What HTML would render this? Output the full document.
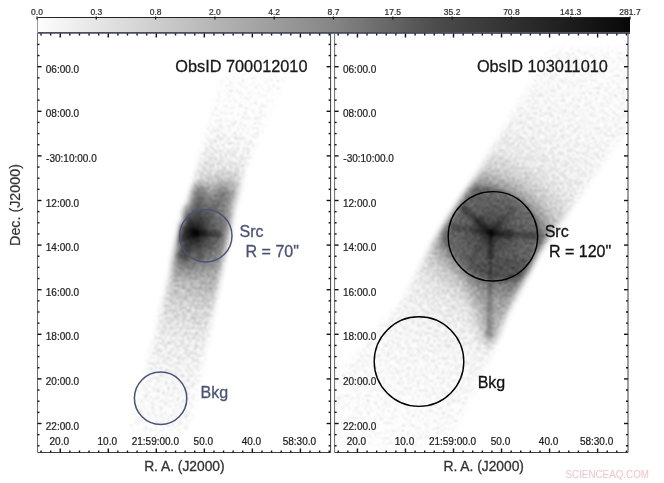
<!DOCTYPE html>
<html><head><meta charset="utf-8"><style>
html,body{margin:0;padding:0;background:#fff;width:664px;height:483px;overflow:hidden}
svg{display:block;font-family:"Liberation Sans",sans-serif;will-change:transform}
</style></head><body>
<svg width="664" height="483" viewBox="0 0 664 483">
<defs>
<linearGradient id="cbg" gradientUnits="userSpaceOnUse" x1="37" x2="630" y1="0" y2="0"><stop offset="0" stop-color="#fdfdfd"/><stop offset="0.1675" stop-color="#d6d6d6"/><stop offset="0.336" stop-color="#acacac"/><stop offset="0.505" stop-color="#848484"/><stop offset="0.673" stop-color="#4c4c4c"/><stop offset="0.842" stop-color="#282828"/><stop offset="1" stop-color="#080808"/></linearGradient>
</defs>
<rect x="37" y="17" width="593" height="16.5" fill="url(#cbg)"/>
<line x1="37" y1="17.5" x2="630" y2="17.5" stroke="#222" stroke-width="1"/>
<line x1="37" y1="32.9" x2="630" y2="32.9" stroke="#4a4e62" stroke-width="1.9"/>
<line x1="37.5" y1="17" x2="37.5" y2="33.5" stroke="#9a9a9a" stroke-width="1"/>
<defs>
<filter id="blur3" x="-20%" y="-20%" width="140%" height="140%"><feGaussianBlur stdDeviation="3"/></filter>
<filter id="blur2" x="-50%" y="-50%" width="200%" height="200%"><feGaussianBlur stdDeviation="3.5"/></filter>
<filter id="blur5" x="-50%" y="-50%" width="200%" height="200%"><feGaussianBlur stdDeviation="6"/></filter>
<filter id="blur15" x="-50%" y="-50%" width="200%" height="200%"><feGaussianBlur stdDeviation="1.6"/></filter>
<filter id="blur8" x="-50%" y="-50%" width="200%" height="200%"><feGaussianBlur stdDeviation="8"/></filter>
<filter id="blur1" x="-50%" y="-50%" width="200%" height="200%"><feGaussianBlur stdDeviation="1.2"/></filter>
<filter id="speck" filterUnits="userSpaceOnUse" x="0" y="0" width="664" height="483" color-interpolation-filters="sRGB"><feTurbulence type="fractalNoise" baseFrequency="0.4" numOctaves="1" seed="7" result="n0"/><feGaussianBlur in="n0" stdDeviation="0.3" result="n"/><feColorMatrix in="n" type="matrix" values="0 0 0 0 0  0 0 0 0 0  0 0 0 0 0  1 0 0 0 0" result="na"/><feComposite in="SourceGraphic" in2="na" operator="arithmetic" k1="0" k2="1.0" k3="-0.5" k4="0.215" result="d"/><feColorMatrix in="d" type="matrix" values="0 0 0 0 0  0 0 0 0 0  0 0 0 0 0  0 0 0 1 0" result="d2"/><feGaussianBlur in="d2" stdDeviation="0.8"/></filter>
<filter id="speckL" filterUnits="userSpaceOnUse" x="0" y="0" width="664" height="483" color-interpolation-filters="sRGB"><feTurbulence type="fractalNoise" baseFrequency="0.4" numOctaves="1" seed="7" result="n0"/><feGaussianBlur in="n0" stdDeviation="0.3" result="n"/><feColorMatrix in="n" type="matrix" values="0 0 0 0 0  0 0 0 0 0  0 0 0 0 0  1 0 0 0 0" result="na"/><feComposite in="SourceGraphic" in2="na" operator="arithmetic" k1="0" k2="1.0" k3="-0.6" k4="0.26" result="d"/><feColorMatrix in="d" type="matrix" values="0 0 0 0 0  0 0 0 0 0  0 0 0 0 0  0 0 0 1 0" result="d2"/><feGaussianBlur in="d2" stdDeviation="0.9"/></filter>
<clipPath id="clipL"><rect x="38" y="34" width="292" height="418"/></clipPath>
<clipPath id="clipR"><rect x="335.1" y="34" width="292.4" height="418"/></clipPath>
<mask id="mL" maskUnits="userSpaceOnUse" x="0" y="0" width="664" height="483"><g filter="url(#blur3)"><polygon points="222,72 288,72 245,168 233,205 217,290 188,432 130,432 167,290 190,200 199,165" fill="#fff"/></g></mask>
<mask id="mL2" maskUnits="userSpaceOnUse" x="0" y="0" width="664" height="483"><g filter="url(#blur2)"><polygon points="222,72 288,72 245,168 233,205 217,290 188,432 130,432 167,290 190,200 199,165" fill="#fff" stroke="#fff" stroke-width="6" stroke-linejoin="round"/></g></mask>
<linearGradient id="pL" gradientUnits="userSpaceOnUse" x1="0" y1="-160" x2="0" y2="198"><stop offset="0.0000" stop-color="#000" stop-opacity="0.0161"/><stop offset="0.0838" stop-color="#000" stop-opacity="0.0294"/><stop offset="0.1397" stop-color="#000" stop-opacity="0.0499"/><stop offset="0.1955" stop-color="#000" stop-opacity="0.0804"/><stop offset="0.2514" stop-color="#000" stop-opacity="0.1388"/><stop offset="0.3073" stop-color="#000" stop-opacity="0.2201"/><stop offset="0.3631" stop-color="#000" stop-opacity="0.3201"/><stop offset="0.4190" stop-color="#000" stop-opacity="0.4201"/><stop offset="0.4469" stop-color="#000" stop-opacity="0.4601"/><stop offset="0.4888" stop-color="#000" stop-opacity="0.4601"/><stop offset="0.5447" stop-color="#000" stop-opacity="0.4001"/><stop offset="0.6006" stop-color="#000" stop-opacity="0.3001"/><stop offset="0.6564" stop-color="#000" stop-opacity="0.21"/><stop offset="0.7263" stop-color="#000" stop-opacity="0.1388"/><stop offset="0.7961" stop-color="#000" stop-opacity="0.0996"/><stop offset="0.8939" stop-color="#000" stop-opacity="0.0662"/><stop offset="1.0000" stop-color="#000" stop-opacity="0.0406"/></linearGradient>
<radialGradient id="cL" gradientUnits="userSpaceOnUse" cx="195.6" cy="233" r="45"><stop offset="0.0000" stop-color="#000" stop-opacity="0.95"/><stop offset="0.0600" stop-color="#000" stop-opacity="0.85"/><stop offset="0.1500" stop-color="#000" stop-opacity="0.6"/><stop offset="0.3000" stop-color="#000" stop-opacity="0.38"/><stop offset="0.5000" stop-color="#000" stop-opacity="0.2"/><stop offset="0.7500" stop-color="#000" stop-opacity="0.08"/><stop offset="1.0000" stop-color="#000" stop-opacity="0"/></radialGradient>
<mask id="mR" maskUnits="userSpaceOnUse" x="0" y="0" width="664" height="483"><g filter="url(#blur3)"><polygon points="552,48 630,48 630,125 564,218 539,251 507,315 489,360 455,430 420,448 345,448 333,420 333,380 400,304 432,245 477,175 512,115" fill="#fff"/></g></mask>
<radialGradient id="pR" gradientUnits="userSpaceOnUse" cx="491.2" cy="233.2" r="260" gradientTransform="translate(491.2 233.2) rotate(32) scale(1.2 0.9) translate(-491.2 -233.2)"><stop offset="0.0000" stop-color="#000" stop-opacity="0.675"/><stop offset="0.1700" stop-color="#000" stop-opacity="0.635"/><stop offset="0.2000" stop-color="#000" stop-opacity="0.415"/><stop offset="0.2500" stop-color="#000" stop-opacity="0.245"/><stop offset="0.3300" stop-color="#000" stop-opacity="0.1347"/><stop offset="0.4400" stop-color="#000" stop-opacity="0.0916"/><stop offset="0.5800" stop-color="#000" stop-opacity="0.0664"/><stop offset="0.7700" stop-color="#000" stop-opacity="0.0467"/><stop offset="1.0000" stop-color="#000" stop-opacity="0.0293"/></radialGradient>
<radialGradient id="cR" gradientUnits="userSpaceOnUse" cx="491.2" cy="233.2" r="40"><stop offset="0.0000" stop-color="#000" stop-opacity="0.9"/><stop offset="0.0500" stop-color="#000" stop-opacity="0.75"/><stop offset="0.1500" stop-color="#000" stop-opacity="0.45"/><stop offset="0.3500" stop-color="#000" stop-opacity="0.2"/><stop offset="0.7000" stop-color="#000" stop-opacity="0.05"/><stop offset="1.0000" stop-color="#000" stop-opacity="0"/></radialGradient>
</defs>
<g clip-path="url(#clipL)"><g mask="url(#mL)"><g filter="url(#speckL)"><rect x="-44" y="-170" width="88" height="378" fill="url(#pL)" transform="translate(205,233) rotate(14)"/></g></g><g mask="url(#mL2)"><g filter="url(#blur8)"><ellipse cx="205" cy="226" rx="55" ry="20" transform="rotate(-58 205 226)" fill="#000" fill-opacity="0.22"/></g><g filter="url(#blur2)" fill="#000"><path d="M197.0 233.2 L209.0 186.2 L191.1 184.3 L193.0 232.8 Z" fill-opacity="0.3"/><path d="M196.2 233.9 L233.1 192.5 L220.0 183.4 L193.8 232.1 Z" fill-opacity="0.2"/></g><g filter="url(#blur15)" fill="#000"><path d="M195.0 231.0 L177.0 221.0 L177.0 245.0 L195.0 235.0 Z" fill-opacity="0.42"/><path d="M193.7 232.3 L174.7 256.2 L187.1 262.8 L196.3 233.7 Z" fill-opacity="0.25"/><path d="M194.9 234.0 L220.7 238.3 L221.2 231.3 L195.1 232.0 Z" fill-opacity="0.32"/><path d="M194.9 234.5 L206.7 238.3 L207.3 229.3 L195.1 231.5 Z" fill-opacity="0.25"/><path d="M194.0 233.2 L197.9 261.0 L203.8 259.8 L196.0 232.8 Z" fill-opacity="0.15"/><path d="M196.3 232.3 L186.2 203.7 L175.6 209.3 L193.7 233.7 Z" fill-opacity="0.3"/></g><circle cx="195.6" cy="233" r="45" fill="url(#cL)"/></g></g>
<g clip-path="url(#clipR)"><g mask="url(#mR)"><g filter="url(#speck)"><rect x="335" y="34" width="293" height="418" fill="url(#pR)"/><g filter="url(#blur5)"><path d="M462 262 L530 258 L500 345 L484 345 Z" fill="#000" fill-opacity="0.25"/></g></g><g filter="url(#blur15)" fill="#000"><path d="M491.7 232.3 L464.0 203.3 L458.6 209.2 L490.3 233.7 Z" fill-opacity="0.3"/><path d="M492.0 231.9 L480.2 215.2 L472.1 224.1 L490.0 234.1 Z" fill-opacity="0.3"/><path d="M491.7 233.7 L516.4 210.1 L511.1 205.4 L490.3 232.3 Z" fill-opacity="0.16"/><path d="M492.1 234.0 L505.1 224.1 L498.4 218.1 L489.9 232.0 Z" fill-opacity="0.16"/><path d="M490.9 234.0 L536.6 240.7 L537.2 231.7 L491.1 232.0 Z" fill-opacity="0.3"/><path d="M490.9 234.5 L512.5 240.5 L513.4 228.5 L491.1 231.5 Z" fill-opacity="0.28"/><path d="M490.0 233.0 L485.7 337.9 L492.7 338.0 L492.0 233.0 Z" fill-opacity="0.22"/><path d="M489.5 233.0 L485.5 258.9 L495.5 259.1 L492.5 233.0 Z" fill-opacity="0.28"/><path d="M491.1 232.0 L451.9 223.5 L450.8 231.4 L490.9 234.0 Z" fill-opacity="0.2"/><path d="M491.2 231.5 L473.9 225.5 L472.5 235.4 L490.8 234.5 Z" fill-opacity="0.18"/><path d="M490.2 232.4 L465.7 258.9 L472.0 263.8 L491.8 233.6 Z" fill-opacity="0.1"/></g><circle cx="491.2" cy="233.2" r="40" fill="url(#cR)"/></g></g>
<path d="M37.5 452.5 H330.6 V33.5" fill="none" stroke="#3c3f4c" stroke-width="1"/>
<path d="M37.5 33.5 V452.5" fill="none" stroke="#6a6c74" stroke-width="1"/>
<line x1="37.5" y1="44.40" x2="39.5" y2="44.40" stroke="#111" stroke-width="1.4"/>
<line x1="330.6" y1="44.40" x2="328.6" y2="44.40" stroke="#111" stroke-width="1.4"/>
<line x1="37.5" y1="55.55" x2="39.5" y2="55.55" stroke="#111" stroke-width="1.4"/>
<line x1="330.6" y1="55.55" x2="328.6" y2="55.55" stroke="#111" stroke-width="1.4"/>
<line x1="37.5" y1="66.70" x2="41.5" y2="66.70" stroke="#111" stroke-width="1.4"/>
<line x1="330.6" y1="66.70" x2="326.6" y2="66.70" stroke="#111" stroke-width="1.4"/>
<line x1="37.5" y1="77.85" x2="39.5" y2="77.85" stroke="#111" stroke-width="1.4"/>
<line x1="330.6" y1="77.85" x2="328.6" y2="77.85" stroke="#111" stroke-width="1.4"/>
<line x1="37.5" y1="89.00" x2="39.5" y2="89.00" stroke="#111" stroke-width="1.4"/>
<line x1="330.6" y1="89.00" x2="328.6" y2="89.00" stroke="#111" stroke-width="1.4"/>
<line x1="37.5" y1="100.15" x2="39.5" y2="100.15" stroke="#111" stroke-width="1.4"/>
<line x1="330.6" y1="100.15" x2="328.6" y2="100.15" stroke="#111" stroke-width="1.4"/>
<line x1="37.5" y1="111.30" x2="41.5" y2="111.30" stroke="#111" stroke-width="1.4"/>
<line x1="330.6" y1="111.30" x2="326.6" y2="111.30" stroke="#111" stroke-width="1.4"/>
<line x1="37.5" y1="122.45" x2="39.5" y2="122.45" stroke="#111" stroke-width="1.4"/>
<line x1="330.6" y1="122.45" x2="328.6" y2="122.45" stroke="#111" stroke-width="1.4"/>
<line x1="37.5" y1="133.60" x2="39.5" y2="133.60" stroke="#111" stroke-width="1.4"/>
<line x1="330.6" y1="133.60" x2="328.6" y2="133.60" stroke="#111" stroke-width="1.4"/>
<line x1="37.5" y1="144.75" x2="39.5" y2="144.75" stroke="#111" stroke-width="1.4"/>
<line x1="330.6" y1="144.75" x2="328.6" y2="144.75" stroke="#111" stroke-width="1.4"/>
<line x1="37.5" y1="155.90" x2="41.5" y2="155.90" stroke="#111" stroke-width="1.4"/>
<line x1="330.6" y1="155.90" x2="326.6" y2="155.90" stroke="#111" stroke-width="1.4"/>
<line x1="37.5" y1="167.05" x2="39.5" y2="167.05" stroke="#111" stroke-width="1.4"/>
<line x1="330.6" y1="167.05" x2="328.6" y2="167.05" stroke="#111" stroke-width="1.4"/>
<line x1="37.5" y1="178.20" x2="39.5" y2="178.20" stroke="#111" stroke-width="1.4"/>
<line x1="330.6" y1="178.20" x2="328.6" y2="178.20" stroke="#111" stroke-width="1.4"/>
<line x1="37.5" y1="189.35" x2="39.5" y2="189.35" stroke="#111" stroke-width="1.4"/>
<line x1="330.6" y1="189.35" x2="328.6" y2="189.35" stroke="#111" stroke-width="1.4"/>
<line x1="37.5" y1="200.50" x2="41.5" y2="200.50" stroke="#111" stroke-width="1.4"/>
<line x1="330.6" y1="200.50" x2="326.6" y2="200.50" stroke="#111" stroke-width="1.4"/>
<line x1="37.5" y1="211.65" x2="39.5" y2="211.65" stroke="#111" stroke-width="1.4"/>
<line x1="330.6" y1="211.65" x2="328.6" y2="211.65" stroke="#111" stroke-width="1.4"/>
<line x1="37.5" y1="222.80" x2="39.5" y2="222.80" stroke="#111" stroke-width="1.4"/>
<line x1="330.6" y1="222.80" x2="328.6" y2="222.80" stroke="#111" stroke-width="1.4"/>
<line x1="37.5" y1="233.95" x2="39.5" y2="233.95" stroke="#111" stroke-width="1.4"/>
<line x1="330.6" y1="233.95" x2="328.6" y2="233.95" stroke="#111" stroke-width="1.4"/>
<line x1="37.5" y1="245.10" x2="41.5" y2="245.10" stroke="#111" stroke-width="1.4"/>
<line x1="330.6" y1="245.10" x2="326.6" y2="245.10" stroke="#111" stroke-width="1.4"/>
<line x1="37.5" y1="256.25" x2="39.5" y2="256.25" stroke="#111" stroke-width="1.4"/>
<line x1="330.6" y1="256.25" x2="328.6" y2="256.25" stroke="#111" stroke-width="1.4"/>
<line x1="37.5" y1="267.40" x2="39.5" y2="267.40" stroke="#111" stroke-width="1.4"/>
<line x1="330.6" y1="267.40" x2="328.6" y2="267.40" stroke="#111" stroke-width="1.4"/>
<line x1="37.5" y1="278.55" x2="39.5" y2="278.55" stroke="#111" stroke-width="1.4"/>
<line x1="330.6" y1="278.55" x2="328.6" y2="278.55" stroke="#111" stroke-width="1.4"/>
<line x1="37.5" y1="289.70" x2="41.5" y2="289.70" stroke="#111" stroke-width="1.4"/>
<line x1="330.6" y1="289.70" x2="326.6" y2="289.70" stroke="#111" stroke-width="1.4"/>
<line x1="37.5" y1="300.85" x2="39.5" y2="300.85" stroke="#111" stroke-width="1.4"/>
<line x1="330.6" y1="300.85" x2="328.6" y2="300.85" stroke="#111" stroke-width="1.4"/>
<line x1="37.5" y1="312.00" x2="39.5" y2="312.00" stroke="#111" stroke-width="1.4"/>
<line x1="330.6" y1="312.00" x2="328.6" y2="312.00" stroke="#111" stroke-width="1.4"/>
<line x1="37.5" y1="323.15" x2="39.5" y2="323.15" stroke="#111" stroke-width="1.4"/>
<line x1="330.6" y1="323.15" x2="328.6" y2="323.15" stroke="#111" stroke-width="1.4"/>
<line x1="37.5" y1="334.30" x2="41.5" y2="334.30" stroke="#111" stroke-width="1.4"/>
<line x1="330.6" y1="334.30" x2="326.6" y2="334.30" stroke="#111" stroke-width="1.4"/>
<line x1="37.5" y1="345.45" x2="39.5" y2="345.45" stroke="#111" stroke-width="1.4"/>
<line x1="330.6" y1="345.45" x2="328.6" y2="345.45" stroke="#111" stroke-width="1.4"/>
<line x1="37.5" y1="356.60" x2="39.5" y2="356.60" stroke="#111" stroke-width="1.4"/>
<line x1="330.6" y1="356.60" x2="328.6" y2="356.60" stroke="#111" stroke-width="1.4"/>
<line x1="37.5" y1="367.75" x2="39.5" y2="367.75" stroke="#111" stroke-width="1.4"/>
<line x1="330.6" y1="367.75" x2="328.6" y2="367.75" stroke="#111" stroke-width="1.4"/>
<line x1="37.5" y1="378.90" x2="41.5" y2="378.90" stroke="#111" stroke-width="1.4"/>
<line x1="330.6" y1="378.90" x2="326.6" y2="378.90" stroke="#111" stroke-width="1.4"/>
<line x1="37.5" y1="390.05" x2="39.5" y2="390.05" stroke="#111" stroke-width="1.4"/>
<line x1="330.6" y1="390.05" x2="328.6" y2="390.05" stroke="#111" stroke-width="1.4"/>
<line x1="37.5" y1="401.20" x2="39.5" y2="401.20" stroke="#111" stroke-width="1.4"/>
<line x1="330.6" y1="401.20" x2="328.6" y2="401.20" stroke="#111" stroke-width="1.4"/>
<line x1="37.5" y1="412.35" x2="39.5" y2="412.35" stroke="#111" stroke-width="1.4"/>
<line x1="330.6" y1="412.35" x2="328.6" y2="412.35" stroke="#111" stroke-width="1.4"/>
<line x1="37.5" y1="423.50" x2="41.5" y2="423.50" stroke="#111" stroke-width="1.4"/>
<line x1="330.6" y1="423.50" x2="326.6" y2="423.50" stroke="#111" stroke-width="1.4"/>
<line x1="37.5" y1="434.65" x2="39.5" y2="434.65" stroke="#111" stroke-width="1.4"/>
<line x1="330.6" y1="434.65" x2="328.6" y2="434.65" stroke="#111" stroke-width="1.4"/>
<line x1="37.5" y1="445.80" x2="39.5" y2="445.80" stroke="#111" stroke-width="1.4"/>
<line x1="330.6" y1="445.80" x2="328.6" y2="445.80" stroke="#111" stroke-width="1.4"/>
<line x1="41.04" y1="452.5" x2="41.04" y2="450.5" stroke="#111" stroke-width="1.4"/>
<line x1="41.04" y1="33.5" x2="41.04" y2="35.5" stroke="#111" stroke-width="1.4"/>
<line x1="50.64" y1="452.5" x2="50.64" y2="450.5" stroke="#111" stroke-width="1.4"/>
<line x1="50.64" y1="33.5" x2="50.64" y2="35.5" stroke="#111" stroke-width="1.4"/>
<line x1="60.25" y1="452.5" x2="60.25" y2="448.5" stroke="#111" stroke-width="1.4"/>
<line x1="60.25" y1="33.5" x2="60.25" y2="37.5" stroke="#111" stroke-width="1.4"/>
<line x1="69.86" y1="452.5" x2="69.86" y2="450.5" stroke="#111" stroke-width="1.4"/>
<line x1="69.86" y1="33.5" x2="69.86" y2="35.5" stroke="#111" stroke-width="1.4"/>
<line x1="79.46" y1="452.5" x2="79.46" y2="450.5" stroke="#111" stroke-width="1.4"/>
<line x1="79.46" y1="33.5" x2="79.46" y2="35.5" stroke="#111" stroke-width="1.4"/>
<line x1="89.07" y1="452.5" x2="89.07" y2="450.5" stroke="#111" stroke-width="1.4"/>
<line x1="89.07" y1="33.5" x2="89.07" y2="35.5" stroke="#111" stroke-width="1.4"/>
<line x1="98.67" y1="452.5" x2="98.67" y2="450.5" stroke="#111" stroke-width="1.4"/>
<line x1="98.67" y1="33.5" x2="98.67" y2="35.5" stroke="#111" stroke-width="1.4"/>
<line x1="108.28" y1="452.5" x2="108.28" y2="448.5" stroke="#111" stroke-width="1.4"/>
<line x1="108.28" y1="33.5" x2="108.28" y2="37.5" stroke="#111" stroke-width="1.4"/>
<line x1="117.89" y1="452.5" x2="117.89" y2="450.5" stroke="#111" stroke-width="1.4"/>
<line x1="117.89" y1="33.5" x2="117.89" y2="35.5" stroke="#111" stroke-width="1.4"/>
<line x1="127.49" y1="452.5" x2="127.49" y2="450.5" stroke="#111" stroke-width="1.4"/>
<line x1="127.49" y1="33.5" x2="127.49" y2="35.5" stroke="#111" stroke-width="1.4"/>
<line x1="137.10" y1="452.5" x2="137.10" y2="450.5" stroke="#111" stroke-width="1.4"/>
<line x1="137.10" y1="33.5" x2="137.10" y2="35.5" stroke="#111" stroke-width="1.4"/>
<line x1="146.70" y1="452.5" x2="146.70" y2="450.5" stroke="#111" stroke-width="1.4"/>
<line x1="146.70" y1="33.5" x2="146.70" y2="35.5" stroke="#111" stroke-width="1.4"/>
<line x1="156.31" y1="452.5" x2="156.31" y2="448.5" stroke="#111" stroke-width="1.4"/>
<line x1="156.31" y1="33.5" x2="156.31" y2="37.5" stroke="#111" stroke-width="1.4"/>
<line x1="165.92" y1="452.5" x2="165.92" y2="450.5" stroke="#111" stroke-width="1.4"/>
<line x1="165.92" y1="33.5" x2="165.92" y2="35.5" stroke="#111" stroke-width="1.4"/>
<line x1="175.52" y1="452.5" x2="175.52" y2="450.5" stroke="#111" stroke-width="1.4"/>
<line x1="175.52" y1="33.5" x2="175.52" y2="35.5" stroke="#111" stroke-width="1.4"/>
<line x1="185.13" y1="452.5" x2="185.13" y2="450.5" stroke="#111" stroke-width="1.4"/>
<line x1="185.13" y1="33.5" x2="185.13" y2="35.5" stroke="#111" stroke-width="1.4"/>
<line x1="194.73" y1="452.5" x2="194.73" y2="450.5" stroke="#111" stroke-width="1.4"/>
<line x1="194.73" y1="33.5" x2="194.73" y2="35.5" stroke="#111" stroke-width="1.4"/>
<line x1="204.34" y1="452.5" x2="204.34" y2="448.5" stroke="#111" stroke-width="1.4"/>
<line x1="204.34" y1="33.5" x2="204.34" y2="37.5" stroke="#111" stroke-width="1.4"/>
<line x1="213.95" y1="452.5" x2="213.95" y2="450.5" stroke="#111" stroke-width="1.4"/>
<line x1="213.95" y1="33.5" x2="213.95" y2="35.5" stroke="#111" stroke-width="1.4"/>
<line x1="223.55" y1="452.5" x2="223.55" y2="450.5" stroke="#111" stroke-width="1.4"/>
<line x1="223.55" y1="33.5" x2="223.55" y2="35.5" stroke="#111" stroke-width="1.4"/>
<line x1="233.16" y1="452.5" x2="233.16" y2="450.5" stroke="#111" stroke-width="1.4"/>
<line x1="233.16" y1="33.5" x2="233.16" y2="35.5" stroke="#111" stroke-width="1.4"/>
<line x1="242.76" y1="452.5" x2="242.76" y2="450.5" stroke="#111" stroke-width="1.4"/>
<line x1="242.76" y1="33.5" x2="242.76" y2="35.5" stroke="#111" stroke-width="1.4"/>
<line x1="252.37" y1="452.5" x2="252.37" y2="448.5" stroke="#111" stroke-width="1.4"/>
<line x1="252.37" y1="33.5" x2="252.37" y2="37.5" stroke="#111" stroke-width="1.4"/>
<line x1="261.98" y1="452.5" x2="261.98" y2="450.5" stroke="#111" stroke-width="1.4"/>
<line x1="261.98" y1="33.5" x2="261.98" y2="35.5" stroke="#111" stroke-width="1.4"/>
<line x1="271.58" y1="452.5" x2="271.58" y2="450.5" stroke="#111" stroke-width="1.4"/>
<line x1="271.58" y1="33.5" x2="271.58" y2="35.5" stroke="#111" stroke-width="1.4"/>
<line x1="281.19" y1="452.5" x2="281.19" y2="450.5" stroke="#111" stroke-width="1.4"/>
<line x1="281.19" y1="33.5" x2="281.19" y2="35.5" stroke="#111" stroke-width="1.4"/>
<line x1="290.79" y1="452.5" x2="290.79" y2="450.5" stroke="#111" stroke-width="1.4"/>
<line x1="290.79" y1="33.5" x2="290.79" y2="35.5" stroke="#111" stroke-width="1.4"/>
<line x1="300.40" y1="452.5" x2="300.40" y2="448.5" stroke="#111" stroke-width="1.4"/>
<line x1="300.40" y1="33.5" x2="300.40" y2="37.5" stroke="#111" stroke-width="1.4"/>
<line x1="310.01" y1="452.5" x2="310.01" y2="450.5" stroke="#111" stroke-width="1.4"/>
<line x1="310.01" y1="33.5" x2="310.01" y2="35.5" stroke="#111" stroke-width="1.4"/>
<line x1="319.61" y1="452.5" x2="319.61" y2="450.5" stroke="#111" stroke-width="1.4"/>
<line x1="319.61" y1="33.5" x2="319.61" y2="35.5" stroke="#111" stroke-width="1.4"/>
<line x1="329.22" y1="452.5" x2="329.22" y2="450.5" stroke="#111" stroke-width="1.4"/>
<line x1="329.22" y1="33.5" x2="329.22" y2="35.5" stroke="#111" stroke-width="1.4"/>
<path d="M334.6 452.5 H628.0 V33.5" fill="none" stroke="#3c3f4c" stroke-width="1"/>
<path d="M334.6 33.5 V452.5" fill="none" stroke="#6a6c74" stroke-width="1"/>
<line x1="334.6" y1="44.40" x2="336.6" y2="44.40" stroke="#111" stroke-width="1.4"/>
<line x1="628.0" y1="44.40" x2="626.0" y2="44.40" stroke="#111" stroke-width="1.4"/>
<line x1="334.6" y1="55.55" x2="336.6" y2="55.55" stroke="#111" stroke-width="1.4"/>
<line x1="628.0" y1="55.55" x2="626.0" y2="55.55" stroke="#111" stroke-width="1.4"/>
<line x1="334.6" y1="66.70" x2="338.6" y2="66.70" stroke="#111" stroke-width="1.4"/>
<line x1="628.0" y1="66.70" x2="624.0" y2="66.70" stroke="#111" stroke-width="1.4"/>
<line x1="334.6" y1="77.85" x2="336.6" y2="77.85" stroke="#111" stroke-width="1.4"/>
<line x1="628.0" y1="77.85" x2="626.0" y2="77.85" stroke="#111" stroke-width="1.4"/>
<line x1="334.6" y1="89.00" x2="336.6" y2="89.00" stroke="#111" stroke-width="1.4"/>
<line x1="628.0" y1="89.00" x2="626.0" y2="89.00" stroke="#111" stroke-width="1.4"/>
<line x1="334.6" y1="100.15" x2="336.6" y2="100.15" stroke="#111" stroke-width="1.4"/>
<line x1="628.0" y1="100.15" x2="626.0" y2="100.15" stroke="#111" stroke-width="1.4"/>
<line x1="334.6" y1="111.30" x2="338.6" y2="111.30" stroke="#111" stroke-width="1.4"/>
<line x1="628.0" y1="111.30" x2="624.0" y2="111.30" stroke="#111" stroke-width="1.4"/>
<line x1="334.6" y1="122.45" x2="336.6" y2="122.45" stroke="#111" stroke-width="1.4"/>
<line x1="628.0" y1="122.45" x2="626.0" y2="122.45" stroke="#111" stroke-width="1.4"/>
<line x1="334.6" y1="133.60" x2="336.6" y2="133.60" stroke="#111" stroke-width="1.4"/>
<line x1="628.0" y1="133.60" x2="626.0" y2="133.60" stroke="#111" stroke-width="1.4"/>
<line x1="334.6" y1="144.75" x2="336.6" y2="144.75" stroke="#111" stroke-width="1.4"/>
<line x1="628.0" y1="144.75" x2="626.0" y2="144.75" stroke="#111" stroke-width="1.4"/>
<line x1="334.6" y1="155.90" x2="338.6" y2="155.90" stroke="#111" stroke-width="1.4"/>
<line x1="628.0" y1="155.90" x2="624.0" y2="155.90" stroke="#111" stroke-width="1.4"/>
<line x1="334.6" y1="167.05" x2="336.6" y2="167.05" stroke="#111" stroke-width="1.4"/>
<line x1="628.0" y1="167.05" x2="626.0" y2="167.05" stroke="#111" stroke-width="1.4"/>
<line x1="334.6" y1="178.20" x2="336.6" y2="178.20" stroke="#111" stroke-width="1.4"/>
<line x1="628.0" y1="178.20" x2="626.0" y2="178.20" stroke="#111" stroke-width="1.4"/>
<line x1="334.6" y1="189.35" x2="336.6" y2="189.35" stroke="#111" stroke-width="1.4"/>
<line x1="628.0" y1="189.35" x2="626.0" y2="189.35" stroke="#111" stroke-width="1.4"/>
<line x1="334.6" y1="200.50" x2="338.6" y2="200.50" stroke="#111" stroke-width="1.4"/>
<line x1="628.0" y1="200.50" x2="624.0" y2="200.50" stroke="#111" stroke-width="1.4"/>
<line x1="334.6" y1="211.65" x2="336.6" y2="211.65" stroke="#111" stroke-width="1.4"/>
<line x1="628.0" y1="211.65" x2="626.0" y2="211.65" stroke="#111" stroke-width="1.4"/>
<line x1="334.6" y1="222.80" x2="336.6" y2="222.80" stroke="#111" stroke-width="1.4"/>
<line x1="628.0" y1="222.80" x2="626.0" y2="222.80" stroke="#111" stroke-width="1.4"/>
<line x1="334.6" y1="233.95" x2="336.6" y2="233.95" stroke="#111" stroke-width="1.4"/>
<line x1="628.0" y1="233.95" x2="626.0" y2="233.95" stroke="#111" stroke-width="1.4"/>
<line x1="334.6" y1="245.10" x2="338.6" y2="245.10" stroke="#111" stroke-width="1.4"/>
<line x1="628.0" y1="245.10" x2="624.0" y2="245.10" stroke="#111" stroke-width="1.4"/>
<line x1="334.6" y1="256.25" x2="336.6" y2="256.25" stroke="#111" stroke-width="1.4"/>
<line x1="628.0" y1="256.25" x2="626.0" y2="256.25" stroke="#111" stroke-width="1.4"/>
<line x1="334.6" y1="267.40" x2="336.6" y2="267.40" stroke="#111" stroke-width="1.4"/>
<line x1="628.0" y1="267.40" x2="626.0" y2="267.40" stroke="#111" stroke-width="1.4"/>
<line x1="334.6" y1="278.55" x2="336.6" y2="278.55" stroke="#111" stroke-width="1.4"/>
<line x1="628.0" y1="278.55" x2="626.0" y2="278.55" stroke="#111" stroke-width="1.4"/>
<line x1="334.6" y1="289.70" x2="338.6" y2="289.70" stroke="#111" stroke-width="1.4"/>
<line x1="628.0" y1="289.70" x2="624.0" y2="289.70" stroke="#111" stroke-width="1.4"/>
<line x1="334.6" y1="300.85" x2="336.6" y2="300.85" stroke="#111" stroke-width="1.4"/>
<line x1="628.0" y1="300.85" x2="626.0" y2="300.85" stroke="#111" stroke-width="1.4"/>
<line x1="334.6" y1="312.00" x2="336.6" y2="312.00" stroke="#111" stroke-width="1.4"/>
<line x1="628.0" y1="312.00" x2="626.0" y2="312.00" stroke="#111" stroke-width="1.4"/>
<line x1="334.6" y1="323.15" x2="336.6" y2="323.15" stroke="#111" stroke-width="1.4"/>
<line x1="628.0" y1="323.15" x2="626.0" y2="323.15" stroke="#111" stroke-width="1.4"/>
<line x1="334.6" y1="334.30" x2="338.6" y2="334.30" stroke="#111" stroke-width="1.4"/>
<line x1="628.0" y1="334.30" x2="624.0" y2="334.30" stroke="#111" stroke-width="1.4"/>
<line x1="334.6" y1="345.45" x2="336.6" y2="345.45" stroke="#111" stroke-width="1.4"/>
<line x1="628.0" y1="345.45" x2="626.0" y2="345.45" stroke="#111" stroke-width="1.4"/>
<line x1="334.6" y1="356.60" x2="336.6" y2="356.60" stroke="#111" stroke-width="1.4"/>
<line x1="628.0" y1="356.60" x2="626.0" y2="356.60" stroke="#111" stroke-width="1.4"/>
<line x1="334.6" y1="367.75" x2="336.6" y2="367.75" stroke="#111" stroke-width="1.4"/>
<line x1="628.0" y1="367.75" x2="626.0" y2="367.75" stroke="#111" stroke-width="1.4"/>
<line x1="334.6" y1="378.90" x2="338.6" y2="378.90" stroke="#111" stroke-width="1.4"/>
<line x1="628.0" y1="378.90" x2="624.0" y2="378.90" stroke="#111" stroke-width="1.4"/>
<line x1="334.6" y1="390.05" x2="336.6" y2="390.05" stroke="#111" stroke-width="1.4"/>
<line x1="628.0" y1="390.05" x2="626.0" y2="390.05" stroke="#111" stroke-width="1.4"/>
<line x1="334.6" y1="401.20" x2="336.6" y2="401.20" stroke="#111" stroke-width="1.4"/>
<line x1="628.0" y1="401.20" x2="626.0" y2="401.20" stroke="#111" stroke-width="1.4"/>
<line x1="334.6" y1="412.35" x2="336.6" y2="412.35" stroke="#111" stroke-width="1.4"/>
<line x1="628.0" y1="412.35" x2="626.0" y2="412.35" stroke="#111" stroke-width="1.4"/>
<line x1="334.6" y1="423.50" x2="338.6" y2="423.50" stroke="#111" stroke-width="1.4"/>
<line x1="628.0" y1="423.50" x2="624.0" y2="423.50" stroke="#111" stroke-width="1.4"/>
<line x1="334.6" y1="434.65" x2="336.6" y2="434.65" stroke="#111" stroke-width="1.4"/>
<line x1="628.0" y1="434.65" x2="626.0" y2="434.65" stroke="#111" stroke-width="1.4"/>
<line x1="334.6" y1="445.80" x2="336.6" y2="445.80" stroke="#111" stroke-width="1.4"/>
<line x1="628.0" y1="445.80" x2="626.0" y2="445.80" stroke="#111" stroke-width="1.4"/>
<line x1="338.24" y1="452.5" x2="338.24" y2="450.5" stroke="#111" stroke-width="1.4"/>
<line x1="338.24" y1="33.5" x2="338.24" y2="35.5" stroke="#111" stroke-width="1.4"/>
<line x1="347.84" y1="452.5" x2="347.84" y2="450.5" stroke="#111" stroke-width="1.4"/>
<line x1="347.84" y1="33.5" x2="347.84" y2="35.5" stroke="#111" stroke-width="1.4"/>
<line x1="357.45" y1="452.5" x2="357.45" y2="448.5" stroke="#111" stroke-width="1.4"/>
<line x1="357.45" y1="33.5" x2="357.45" y2="37.5" stroke="#111" stroke-width="1.4"/>
<line x1="367.06" y1="452.5" x2="367.06" y2="450.5" stroke="#111" stroke-width="1.4"/>
<line x1="367.06" y1="33.5" x2="367.06" y2="35.5" stroke="#111" stroke-width="1.4"/>
<line x1="376.66" y1="452.5" x2="376.66" y2="450.5" stroke="#111" stroke-width="1.4"/>
<line x1="376.66" y1="33.5" x2="376.66" y2="35.5" stroke="#111" stroke-width="1.4"/>
<line x1="386.27" y1="452.5" x2="386.27" y2="450.5" stroke="#111" stroke-width="1.4"/>
<line x1="386.27" y1="33.5" x2="386.27" y2="35.5" stroke="#111" stroke-width="1.4"/>
<line x1="395.87" y1="452.5" x2="395.87" y2="450.5" stroke="#111" stroke-width="1.4"/>
<line x1="395.87" y1="33.5" x2="395.87" y2="35.5" stroke="#111" stroke-width="1.4"/>
<line x1="405.48" y1="452.5" x2="405.48" y2="448.5" stroke="#111" stroke-width="1.4"/>
<line x1="405.48" y1="33.5" x2="405.48" y2="37.5" stroke="#111" stroke-width="1.4"/>
<line x1="415.09" y1="452.5" x2="415.09" y2="450.5" stroke="#111" stroke-width="1.4"/>
<line x1="415.09" y1="33.5" x2="415.09" y2="35.5" stroke="#111" stroke-width="1.4"/>
<line x1="424.69" y1="452.5" x2="424.69" y2="450.5" stroke="#111" stroke-width="1.4"/>
<line x1="424.69" y1="33.5" x2="424.69" y2="35.5" stroke="#111" stroke-width="1.4"/>
<line x1="434.30" y1="452.5" x2="434.30" y2="450.5" stroke="#111" stroke-width="1.4"/>
<line x1="434.30" y1="33.5" x2="434.30" y2="35.5" stroke="#111" stroke-width="1.4"/>
<line x1="443.90" y1="452.5" x2="443.90" y2="450.5" stroke="#111" stroke-width="1.4"/>
<line x1="443.90" y1="33.5" x2="443.90" y2="35.5" stroke="#111" stroke-width="1.4"/>
<line x1="453.51" y1="452.5" x2="453.51" y2="448.5" stroke="#111" stroke-width="1.4"/>
<line x1="453.51" y1="33.5" x2="453.51" y2="37.5" stroke="#111" stroke-width="1.4"/>
<line x1="463.12" y1="452.5" x2="463.12" y2="450.5" stroke="#111" stroke-width="1.4"/>
<line x1="463.12" y1="33.5" x2="463.12" y2="35.5" stroke="#111" stroke-width="1.4"/>
<line x1="472.72" y1="452.5" x2="472.72" y2="450.5" stroke="#111" stroke-width="1.4"/>
<line x1="472.72" y1="33.5" x2="472.72" y2="35.5" stroke="#111" stroke-width="1.4"/>
<line x1="482.33" y1="452.5" x2="482.33" y2="450.5" stroke="#111" stroke-width="1.4"/>
<line x1="482.33" y1="33.5" x2="482.33" y2="35.5" stroke="#111" stroke-width="1.4"/>
<line x1="491.93" y1="452.5" x2="491.93" y2="450.5" stroke="#111" stroke-width="1.4"/>
<line x1="491.93" y1="33.5" x2="491.93" y2="35.5" stroke="#111" stroke-width="1.4"/>
<line x1="501.54" y1="452.5" x2="501.54" y2="448.5" stroke="#111" stroke-width="1.4"/>
<line x1="501.54" y1="33.5" x2="501.54" y2="37.5" stroke="#111" stroke-width="1.4"/>
<line x1="511.15" y1="452.5" x2="511.15" y2="450.5" stroke="#111" stroke-width="1.4"/>
<line x1="511.15" y1="33.5" x2="511.15" y2="35.5" stroke="#111" stroke-width="1.4"/>
<line x1="520.75" y1="452.5" x2="520.75" y2="450.5" stroke="#111" stroke-width="1.4"/>
<line x1="520.75" y1="33.5" x2="520.75" y2="35.5" stroke="#111" stroke-width="1.4"/>
<line x1="530.36" y1="452.5" x2="530.36" y2="450.5" stroke="#111" stroke-width="1.4"/>
<line x1="530.36" y1="33.5" x2="530.36" y2="35.5" stroke="#111" stroke-width="1.4"/>
<line x1="539.96" y1="452.5" x2="539.96" y2="450.5" stroke="#111" stroke-width="1.4"/>
<line x1="539.96" y1="33.5" x2="539.96" y2="35.5" stroke="#111" stroke-width="1.4"/>
<line x1="549.57" y1="452.5" x2="549.57" y2="448.5" stroke="#111" stroke-width="1.4"/>
<line x1="549.57" y1="33.5" x2="549.57" y2="37.5" stroke="#111" stroke-width="1.4"/>
<line x1="559.18" y1="452.5" x2="559.18" y2="450.5" stroke="#111" stroke-width="1.4"/>
<line x1="559.18" y1="33.5" x2="559.18" y2="35.5" stroke="#111" stroke-width="1.4"/>
<line x1="568.78" y1="452.5" x2="568.78" y2="450.5" stroke="#111" stroke-width="1.4"/>
<line x1="568.78" y1="33.5" x2="568.78" y2="35.5" stroke="#111" stroke-width="1.4"/>
<line x1="578.39" y1="452.5" x2="578.39" y2="450.5" stroke="#111" stroke-width="1.4"/>
<line x1="578.39" y1="33.5" x2="578.39" y2="35.5" stroke="#111" stroke-width="1.4"/>
<line x1="587.99" y1="452.5" x2="587.99" y2="450.5" stroke="#111" stroke-width="1.4"/>
<line x1="587.99" y1="33.5" x2="587.99" y2="35.5" stroke="#111" stroke-width="1.4"/>
<line x1="597.60" y1="452.5" x2="597.60" y2="448.5" stroke="#111" stroke-width="1.4"/>
<line x1="597.60" y1="33.5" x2="597.60" y2="37.5" stroke="#111" stroke-width="1.4"/>
<line x1="607.21" y1="452.5" x2="607.21" y2="450.5" stroke="#111" stroke-width="1.4"/>
<line x1="607.21" y1="33.5" x2="607.21" y2="35.5" stroke="#111" stroke-width="1.4"/>
<line x1="616.81" y1="452.5" x2="616.81" y2="450.5" stroke="#111" stroke-width="1.4"/>
<line x1="616.81" y1="33.5" x2="616.81" y2="35.5" stroke="#111" stroke-width="1.4"/>
<line x1="626.42" y1="452.5" x2="626.42" y2="450.5" stroke="#111" stroke-width="1.4"/>
<line x1="626.42" y1="33.5" x2="626.42" y2="35.5" stroke="#111" stroke-width="1.4"/>
<circle cx="205.8" cy="235.8" r="26.2" fill="none" stroke="#4a5275" stroke-width="1.5"/>
<circle cx="160.6" cy="398.2" r="26.2" fill="none" stroke="#4a5275" stroke-width="1.5"/>
<circle cx="492.9" cy="236.3" r="44.7" fill="none" stroke="#000" stroke-width="1.4"/>
<circle cx="419" cy="361.6" r="44.8" fill="none" stroke="#000" stroke-width="1.4"/>
<line x1="37.00" y1="16.5" x2="37.00" y2="19.5" stroke="#111" stroke-width="1.2"/>
<line x1="96.30" y1="16.5" x2="96.30" y2="19.5" stroke="#111" stroke-width="1.2"/>
<line x1="155.60" y1="16.5" x2="155.60" y2="19.5" stroke="#111" stroke-width="1.2"/>
<line x1="214.90" y1="16.5" x2="214.90" y2="19.5" stroke="#111" stroke-width="1.2"/>
<line x1="274.20" y1="16.5" x2="274.20" y2="19.5" stroke="#111" stroke-width="1.2"/>
<line x1="333.50" y1="16.5" x2="333.50" y2="19.5" stroke="#111" stroke-width="1.2"/>
<line x1="392.80" y1="16.5" x2="392.80" y2="19.5" stroke="#111" stroke-width="1.2"/>
<line x1="452.10" y1="16.5" x2="452.10" y2="19.5" stroke="#111" stroke-width="1.2"/>
<line x1="511.40" y1="16.5" x2="511.40" y2="19.5" stroke="#111" stroke-width="1.2"/>
<line x1="570.70" y1="16.5" x2="570.70" y2="19.5" stroke="#111" stroke-width="1.2"/>
<line x1="630.00" y1="16.5" x2="630.00" y2="19.5" stroke="#111" stroke-width="1.2"/>
<text x="37.00" y="15.00" font-size="8.5" fill="#2e2e2e" stroke="#2e2e2e" stroke-width="0.22" text-anchor="middle" >0.0</text>
<text x="96.30" y="15.00" font-size="8.5" fill="#2e2e2e" stroke="#2e2e2e" stroke-width="0.22" text-anchor="middle" >0.3</text>
<text x="155.60" y="15.00" font-size="8.5" fill="#2e2e2e" stroke="#2e2e2e" stroke-width="0.22" text-anchor="middle" >0.8</text>
<text x="214.90" y="15.00" font-size="8.5" fill="#2e2e2e" stroke="#2e2e2e" stroke-width="0.22" text-anchor="middle" >2.0</text>
<text x="274.20" y="15.00" font-size="8.5" fill="#2e2e2e" stroke="#2e2e2e" stroke-width="0.22" text-anchor="middle" >4.2</text>
<text x="333.50" y="15.00" font-size="8.5" fill="#2e2e2e" stroke="#2e2e2e" stroke-width="0.22" text-anchor="middle" >8.7</text>
<text x="392.80" y="15.00" font-size="8.5" fill="#2e2e2e" stroke="#2e2e2e" stroke-width="0.22" text-anchor="middle" >17.5</text>
<text x="452.10" y="15.00" font-size="8.5" fill="#2e2e2e" stroke="#2e2e2e" stroke-width="0.22" text-anchor="middle" >35.2</text>
<text x="511.40" y="15.00" font-size="8.5" fill="#2e2e2e" stroke="#2e2e2e" stroke-width="0.22" text-anchor="middle" >70.8</text>
<text x="570.70" y="15.00" font-size="8.5" fill="#2e2e2e" stroke="#2e2e2e" stroke-width="0.22" text-anchor="middle" >141.3</text>
<text x="630.00" y="15.00" font-size="8.5" fill="#2e2e2e" stroke="#2e2e2e" stroke-width="0.22" text-anchor="middle" >281.7</text>
<text x="45.80" y="72.70" font-size="10" fill="#222" stroke="#222" stroke-width="0.22" text-anchor="start" >06:00.0</text>
<text x="343.00" y="72.70" font-size="10" fill="#222" stroke="#222" stroke-width="0.22" text-anchor="start" >06:00.0</text>
<text x="45.80" y="117.30" font-size="10" fill="#222" stroke="#222" stroke-width="0.22" text-anchor="start" >08:00.0</text>
<text x="343.00" y="117.30" font-size="10" fill="#222" stroke="#222" stroke-width="0.22" text-anchor="start" >08:00.0</text>
<text x="46.10" y="161.90" font-size="10" fill="#222" stroke="#222" stroke-width="0.22" text-anchor="start" >-30:10:00.0</text>
<text x="343.30" y="161.90" font-size="10" fill="#222" stroke="#222" stroke-width="0.22" text-anchor="start" >-30:10:00.0</text>
<text x="45.80" y="206.50" font-size="10" fill="#222" stroke="#222" stroke-width="0.22" text-anchor="start" >12:00.0</text>
<text x="343.00" y="206.50" font-size="10" fill="#222" stroke="#222" stroke-width="0.22" text-anchor="start" >12:00.0</text>
<text x="45.80" y="251.10" font-size="10" fill="#222" stroke="#222" stroke-width="0.22" text-anchor="start" >14:00.0</text>
<text x="343.00" y="251.10" font-size="10" fill="#222" stroke="#222" stroke-width="0.22" text-anchor="start" >14:00.0</text>
<text x="45.80" y="295.70" font-size="10" fill="#222" stroke="#222" stroke-width="0.22" text-anchor="start" >16:00.0</text>
<text x="343.00" y="295.70" font-size="10" fill="#222" stroke="#222" stroke-width="0.22" text-anchor="start" >16:00.0</text>
<text x="45.80" y="340.30" font-size="10" fill="#222" stroke="#222" stroke-width="0.22" text-anchor="start" >18:00.0</text>
<text x="343.00" y="340.30" font-size="10" fill="#222" stroke="#222" stroke-width="0.22" text-anchor="start" >18:00.0</text>
<text x="45.80" y="384.90" font-size="10" fill="#222" stroke="#222" stroke-width="0.22" text-anchor="start" >20:00.0</text>
<text x="343.00" y="384.90" font-size="10" fill="#222" stroke="#222" stroke-width="0.22" text-anchor="start" >20:00.0</text>
<text x="45.80" y="429.50" font-size="10" fill="#222" stroke="#222" stroke-width="0.22" text-anchor="start" >22:00.0</text>
<text x="343.00" y="429.50" font-size="10" fill="#222" stroke="#222" stroke-width="0.22" text-anchor="start" >22:00.0</text>
<text x="59.25" y="444.50" font-size="10" fill="#1a1a1a" stroke="#1a1a1a" stroke-width="0.22" text-anchor="middle" >20.0</text>
<text x="356.45" y="444.50" font-size="10" fill="#1a1a1a" stroke="#1a1a1a" stroke-width="0.22" text-anchor="middle" >20.0</text>
<text x="107.28" y="444.50" font-size="10" fill="#1a1a1a" stroke="#1a1a1a" stroke-width="0.22" text-anchor="middle" >10.0</text>
<text x="404.48" y="444.50" font-size="10" fill="#1a1a1a" stroke="#1a1a1a" stroke-width="0.22" text-anchor="middle" >10.0</text>
<text x="155.31" y="444.50" font-size="10" fill="#1a1a1a" stroke="#1a1a1a" stroke-width="0.22" text-anchor="middle" >21:59:00.0</text>
<text x="452.51" y="444.50" font-size="10" fill="#1a1a1a" stroke="#1a1a1a" stroke-width="0.22" text-anchor="middle" >21:59:00.0</text>
<text x="203.34" y="444.50" font-size="10" fill="#1a1a1a" stroke="#1a1a1a" stroke-width="0.22" text-anchor="middle" >50.0</text>
<text x="500.54" y="444.50" font-size="10" fill="#1a1a1a" stroke="#1a1a1a" stroke-width="0.22" text-anchor="middle" >50.0</text>
<text x="251.37" y="444.50" font-size="10" fill="#1a1a1a" stroke="#1a1a1a" stroke-width="0.22" text-anchor="middle" >40.0</text>
<text x="548.57" y="444.50" font-size="10" fill="#1a1a1a" stroke="#1a1a1a" stroke-width="0.22" text-anchor="middle" >40.0</text>
<text x="299.40" y="444.50" font-size="10" fill="#1a1a1a" stroke="#1a1a1a" stroke-width="0.22" text-anchor="middle" >58:30.0</text>
<text x="596.60" y="444.50" font-size="10" fill="#1a1a1a" stroke="#1a1a1a" stroke-width="0.22" text-anchor="middle" >58:30.0</text>
<text x="175.30" y="71.60" font-size="16.3" fill="#1a1a1a" stroke="#1a1a1a" stroke-width="0.3" text-anchor="start" >ObsID 700012010</text>
<text x="476.90" y="71.60" font-size="16.3" fill="#1a1a1a" stroke="#1a1a1a" stroke-width="0.3" text-anchor="start" >ObsID 103011010</text>
<text x="239.50" y="236.80" font-size="16" fill="#4b5374" stroke="#4b5374" stroke-width="0.3" text-anchor="start" >Src</text>
<text x="245.60" y="256.70" font-size="16" fill="#4b5374" stroke="#4b5374" stroke-width="0.3" text-anchor="start" >R = 70&quot;</text>
<text x="200.50" y="397.70" font-size="16" fill="#4b5374" stroke="#4b5374" stroke-width="0.3" text-anchor="start" >Bkg</text>
<text x="544.70" y="236.90" font-size="16" fill="#111" stroke="#111" stroke-width="0.3" text-anchor="start" >Src</text>
<text x="549.00" y="256.70" font-size="16" fill="#111" stroke="#111" stroke-width="0.3" text-anchor="start" >R = 120&quot;</text>
<text x="477.70" y="387.60" font-size="16" fill="#111" stroke="#111" stroke-width="0.3" text-anchor="start" >Bkg</text>
<text x="184.40" y="471.00" font-size="13.8" fill="#333" stroke="#333" stroke-width="0.3" text-anchor="middle" >R. A. (J2000)</text>
<text x="483.70" y="471.00" font-size="13.8" fill="#333" stroke="#333" stroke-width="0.3" text-anchor="middle" >R. A. (J2000)</text>
<text x="565.50" y="478.00" font-size="11" fill="#eec4c8" stroke="#eec4c8" stroke-width="0" text-anchor="start" textLength="83.5" lengthAdjust="spacingAndGlyphs">SCIENCEAQ.COM</text>
<text transform="translate(20.0,205) rotate(-90)" font-size="14.3" fill="#333" text-anchor="middle" stroke="#333" stroke-width="0.2">Dec. (J2000)</text>
</svg>
</body></html>
